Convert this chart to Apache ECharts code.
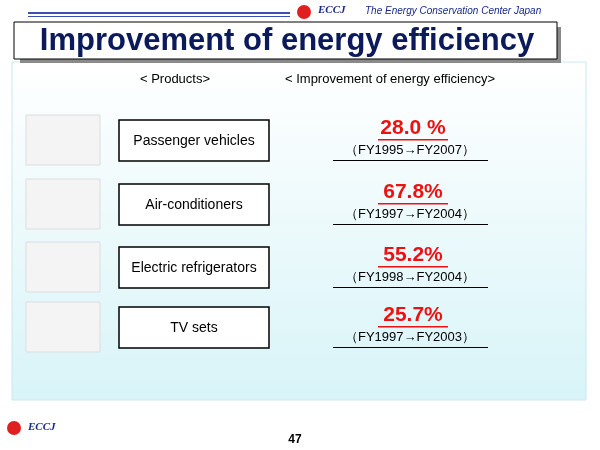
<!DOCTYPE html>
<html><head><meta charset="utf-8">
<script src="https://cdn.jsdelivr.net/npm/echarts@6/dist/echarts.min.js"></script>
<style>html,body{margin:0;padding:0;background:#fff}#c{width:600px;height:450px}</style>
</head><body><div id="c"></div>
<script>
const products = ["Passenger vehicles","Air-conditioners","Electric refrigerators","TV sets"];
const improvements = ["28.0 %","67.8%","55.2%","25.7%"];
const periods = ["（FY1995→FY2007）","（FY1997→FY2004）","（FY1998→FY2004）","（FY1997→FY2003）"];
const boxY = [120,184,247,307];

const chart = echarts.init(document.getElementById('c'));
const F = 'Liberation Sans, Arial, sans-serif';
const g = [];
// top header
g.push({type:'rect',shape:{x:28,y:12,width:262,height:2},style:{fill:'#3a4fb0'}});
g.push({type:'rect',shape:{x:28,y:16,width:262,height:1},style:{fill:'#3a4fb0'}});
g.push({type:'circle',shape:{cx:304,cy:12,r:7},style:{fill:'#e02020'}});
g.push({type:'text',x:318,y:5,style:{text:'ECCJ',font:'italic bold 11px Liberation Serif',fill:'#1a2a8a'}});
g.push({type:'text',x:365,y:6,style:{text:'The Energy Conservation Center Japan',font:'italic 10px '+F,fill:'#1a2a8a'}});
// background panel
g.push({type:'rect',shape:{x:12,y:62,width:574,height:338},style:{fill:new echarts.graphic.LinearGradient(0,0,0,1,[{offset:0,color:'#ffffff'},{offset:1,color:'#d8f4f8'}]),stroke:'#cce8ee'}});
// title
g.push({type:'rect',shape:{x:20,y:27,width:541,height:36},style:{fill:'#8a8a8a'}});
g.push({type:'rect',shape:{x:14,y:22,width:543,height:37},style:{fill:'#ffffff',stroke:'#000',lineWidth:1}});
g.push({type:'text',x:287,y:41,style:{text:'Improvement of energy efficiency',font:'bold 31px '+F,fill:'#0a1a5a',align:'center',verticalAlign:'middle'}});
// headers
g.push({type:'text',x:175,y:79,style:{text:'< Products>',font:'13px '+F,fill:'#000',align:'center',verticalAlign:'middle'}});
g.push({type:'text',x:390,y:79,style:{text:'< Improvement of energy efficiency>',font:'13px '+F,fill:'#000',align:'center',verticalAlign:'middle'}});
products.forEach((p,i)=>{
  const y=boxY[i];
  g.push({type:'rect',shape:{x:26,y:y-5,width:74,height:50},style:{fill:'#f4f4f4',stroke:'#ddd'}});
  g.push({type:'rect',shape:{x:119,y:y,width:150,height:41},style:{fill:'#fff',stroke:'#000',lineWidth:1.5}});
  g.push({type:'text',x:194,y:y+21,style:{text:p,font:'14px '+F,fill:'#000',align:'center',verticalAlign:'middle'}});
  g.push({type:'text',x:413,y:y+8,style:{text:improvements[i],font:'bold 21px '+F,fill:'#ee1111',align:'center',verticalAlign:'middle'}});
  g.push({type:'rect',shape:{x:378,y:y+19,width:70,height:1.5},style:{fill:'#ee1111'}});
  g.push({type:'text',x:410,y:y+30,style:{text:periods[i],font:'13px '+F,fill:'#000',align:'center',verticalAlign:'middle'}});
  g.push({type:'rect',shape:{x:333,y:y+40,width:155,height:1},style:{fill:'#000'}});
});
g.push({type:'circle',shape:{cx:14,cy:428,r:7},style:{fill:'#e02020'}});
g.push({type:'text',x:28,y:422,style:{text:'ECCJ',font:'italic bold 11px Liberation Serif',fill:'#1a2a8a'}});
g.push({type:'text',x:295,y:440,style:{text:'47',font:'bold 12px '+F,fill:'#000',align:'center',verticalAlign:'middle'}});
chart.setOption({animation:false,graphic:g});
</script></body></html>
